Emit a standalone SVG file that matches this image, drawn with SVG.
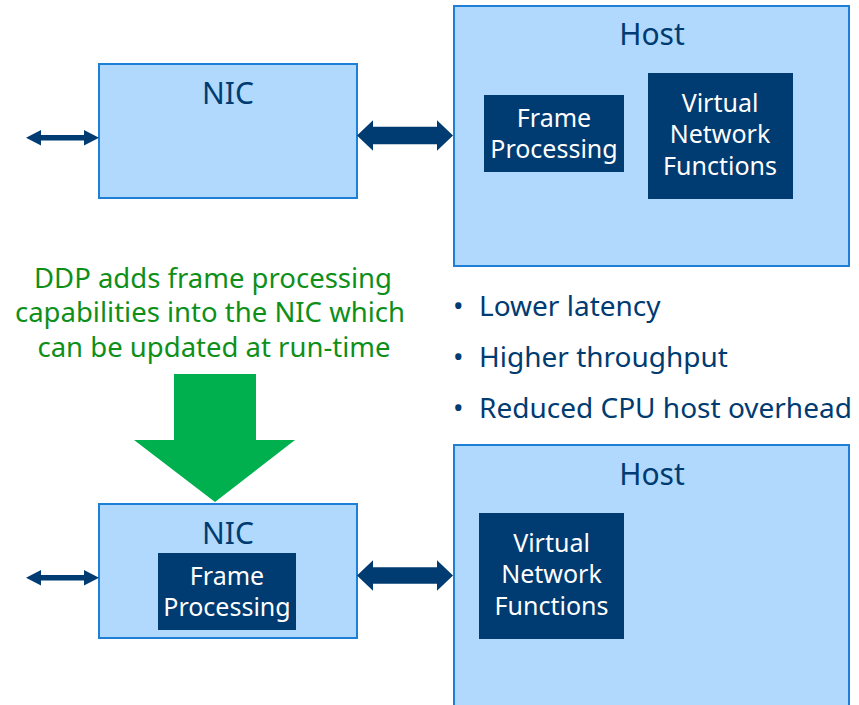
<svg xmlns="http://www.w3.org/2000/svg" width="859" height="705" viewBox="0 0 859 705">
<style>
.box{fill:#B0D9FD;stroke:#1E7FD4;stroke-width:2}
.dark{fill:#003B71}
.lbl{font-family:"Noto Sans","Open Sans",sans-serif;fill:#003B71;text-anchor:middle;font-size:30px}
.wt{font-family:"Noto Sans","Open Sans",sans-serif;fill:#FFFFFF;text-anchor:middle;font-size:25px}
.gt{font-family:"Noto Sans","Open Sans",sans-serif;fill:#0E8F1A;text-anchor:middle;font-size:27.5px}
.bt{font-family:"Noto Sans","Open Sans",sans-serif;fill:#003B71;font-size:28px}
.conn{fill:#003B71}
</style>
<rect width="859" height="705" fill="#FFFFFF"/>
<g id="nic-top">
<rect class="box" x="99" y="64" width="258" height="134"/>
<text class="lbl" x="228" y="104">NIC</text>
</g>
<g id="host-top">
<rect class="box" x="454" y="6" width="395" height="260"/>
<text class="lbl" x="652" y="45">Host</text>
</g>
<g id="fp-top">
<rect class="dark" x="484" y="95" width="140" height="77"/>
<text class="wt" x="554" y="127">Frame</text>
<text class="wt" x="554" y="158">Processing</text>
</g>
<g id="vnf-top">
<rect class="dark" x="648" y="73" width="145" height="126"/>
<text class="wt" x="720" y="112">Virtual</text>
<text class="wt" x="720" y="143">Network</text>
<text class="wt" x="720" y="175">Functions</text>
</g>
<g id="note">
<text class="gt" x="213" y="288">DDP adds frame processing</text>
<text class="gt" x="210" y="322">capabilities into the NIC which</text>
<text class="gt" x="214" y="357">can be updated at run-time</text>
</g>
<g id="bullets">
<text class="bt" x="453" y="316">•</text><text class="bt" x="479" y="316">Lower latency</text>
<text class="bt" x="453" y="367">•</text><text class="bt" x="479" y="367">Higher throughput</text>
<text class="bt" x="453" y="418">•</text><text class="bt" x="479" y="418">Reduced CPU host overhead</text>
</g>
<g id="nic-bottom">
<rect class="box" x="99" y="504" width="258" height="134"/>
<text class="lbl" x="228" y="544">NIC</text>
</g>
<g id="fp-bottom">
<rect class="dark" x="158" y="553" width="138" height="77"/>
<text class="wt" x="227" y="585">Frame</text>
<text class="wt" x="227" y="616">Processing</text>
</g>
<g id="host-bottom">
<rect class="box" x="454" y="445" width="395" height="270"/>
<text class="lbl" x="652" y="485">Host</text>
</g>
<g id="vnf-bottom">
<rect class="dark" x="479" y="513" width="145" height="126"/>
<text class="wt" x="551.5" y="552">Virtual</text>
<text class="wt" x="551.5" y="583">Network</text>
<text class="wt" x="551.5" y="615">Functions</text>
</g>
<g id="connectors">
<polygon class="conn" points="26,137.7 41,130 41,135 84,135 84,130 99,137.7 84,145.4 84,140.4 41,140.4 41,145.4"/>
<polygon class="conn" points="357,135.5 373,120.3 373,126.8 437,126.8 437,120.3 453,135.5 437,150.7 437,144.2 373,144.2 373,150.7"/>
<polygon class="conn" points="26,577.8 41,570 41,575 84,575 84,570 99,577.8 84,585.6 84,580.6 41,580.6 41,585.6"/>
<polygon class="conn" points="357,575.5 373,560.3 373,567.3 437,567.3 437,560.3 453,575.5 437,590.7 437,583.7 373,583.7 373,590.7"/>
<polygon id="ddp-arrow" fill="#00B04F" points="174,374 256,374 256,440 295,440 215,502 134,440 174,440"/>
</g>
</svg>
